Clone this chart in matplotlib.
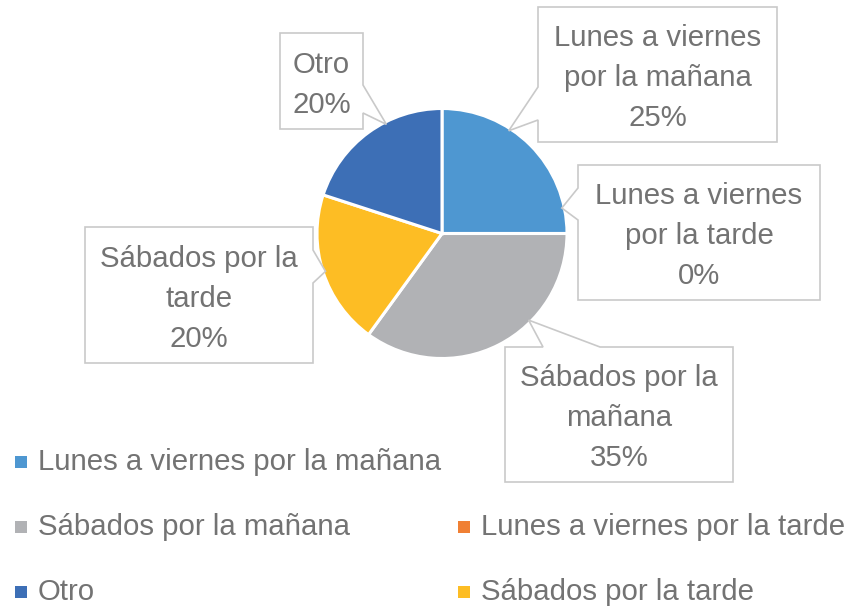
import numpy as np
import matplotlib
matplotlib.use("Agg")
import matplotlib.pyplot as plt
from matplotlib.patches import Polygon, Rectangle

# data
categories = ["Lunes a viernes por la mañana", "Lunes a viernes por la tarde",
              "Sábados por la mañana", "Sábados por la tarde", "Otro"]
values = [25, 0, 35, 20, 20]
label_lines = [["Lunes a viernes", "por la mañana"],
               ["Lunes a viernes", "por la tarde"],
               ["Sábados por la", "mañana"],
               ["Sábados por la", "tarde"],
               ["Otro"]]
colors = ["#4E97D1", "#F08034", "#B1B2B5", "#FDBD24", "#3D6FB6"]

W, H = 851, 610
FONT = ["Liberation Sans Narrow", "Liberation Sans", "DejaVu Sans"]
TXT = "#737373"
EDGE = "#C9C9C9"
FS = 21.2


def Y(y):
    # image pixel row -> plot y
    return H - y


fig = plt.figure(figsize=(W / 100, H / 100), dpi=100)
ax = fig.add_axes([0, 0, 1, 1])

cx, cy, R = 442, 233.5, 125
ax.pie(values, colors=colors, startangle=90, counterclock=False,
       center=(cx, Y(cy)), radius=R,
       wedgeprops=dict(edgecolor="white", linewidth=2.2))
ax.set_xlim(0, W)
ax.set_ylim(0, H)
ax.set_aspect("auto")
ax.axis("off")

# callout layout: box (x0, y0, x1, y1), side of the notch, notch base, anchor angle
callouts = [
    ((538, 7, 777, 142), "left", (87, 120), 33),
    ((578, 165, 820, 300), "left", (188, 220), 78),
    ((505, 347, 733, 482), "top", (543, 600), 135),
    ((85, 227, 313, 363), "right", (250, 283), 252),
    ((280, 33, 363, 129), "right", (85, 113), 333),
]

for i, (box, side, (s0, s1), ang) in enumerate(callouts):
    x0, y0, x1, y1 = box
    a = np.radians(ang)
    tx = cx + R * 0.98 * np.sin(a)
    ty = cy - R * 0.98 * np.cos(a)
    pts = [(x0, y0)]
    if side == "top":
        pts += [(s0, y0), (tx, ty), (s1, y0)]
    pts += [(x1, y0)]
    if side == "right":
        pts += [(x1, s0), (tx, ty), (x1, s1)]
    pts += [(x1, y1), (x0, y1)]
    if side == "left":
        pts += [(x0, s1), (tx, ty), (x0, s0)]
    poly = Polygon([(px, Y(py)) for px, py in pts], closed=True,
                   facecolor="white", edgecolor=EDGE, linewidth=1.2, zorder=5)
    ax.add_patch(poly)

    lines = label_lines[i] + [f"{values[i]}%"]
    mx = (x0 + x1) / 2
    my = (y0 + y1) / 2 + 4
    n = len(lines)
    for k, ln in enumerate(lines):
        ly = my + (k - (n - 1) / 2) * 40
        ax.text(mx, Y(ly), ln, ha="center", va="center", fontsize=FS,
                color=TXT, family=FONT, zorder=6)

# legend (Excel order)
legend_pos = [(15, 462), (458, 527), (15, 527), (458, 592), (15, 592)]
for i, (lx, ly) in enumerate(legend_pos):
    ax.add_patch(Rectangle((lx, Y(ly) - 6), 12, 12, facecolor=colors[i],
                           edgecolor="none"))
    ax.text(lx + 23, Y(ly), categories[i], ha="left", va="center",
            fontsize=FS, color=TXT, family=FONT)

fig.savefig("out.png", dpi=100)
